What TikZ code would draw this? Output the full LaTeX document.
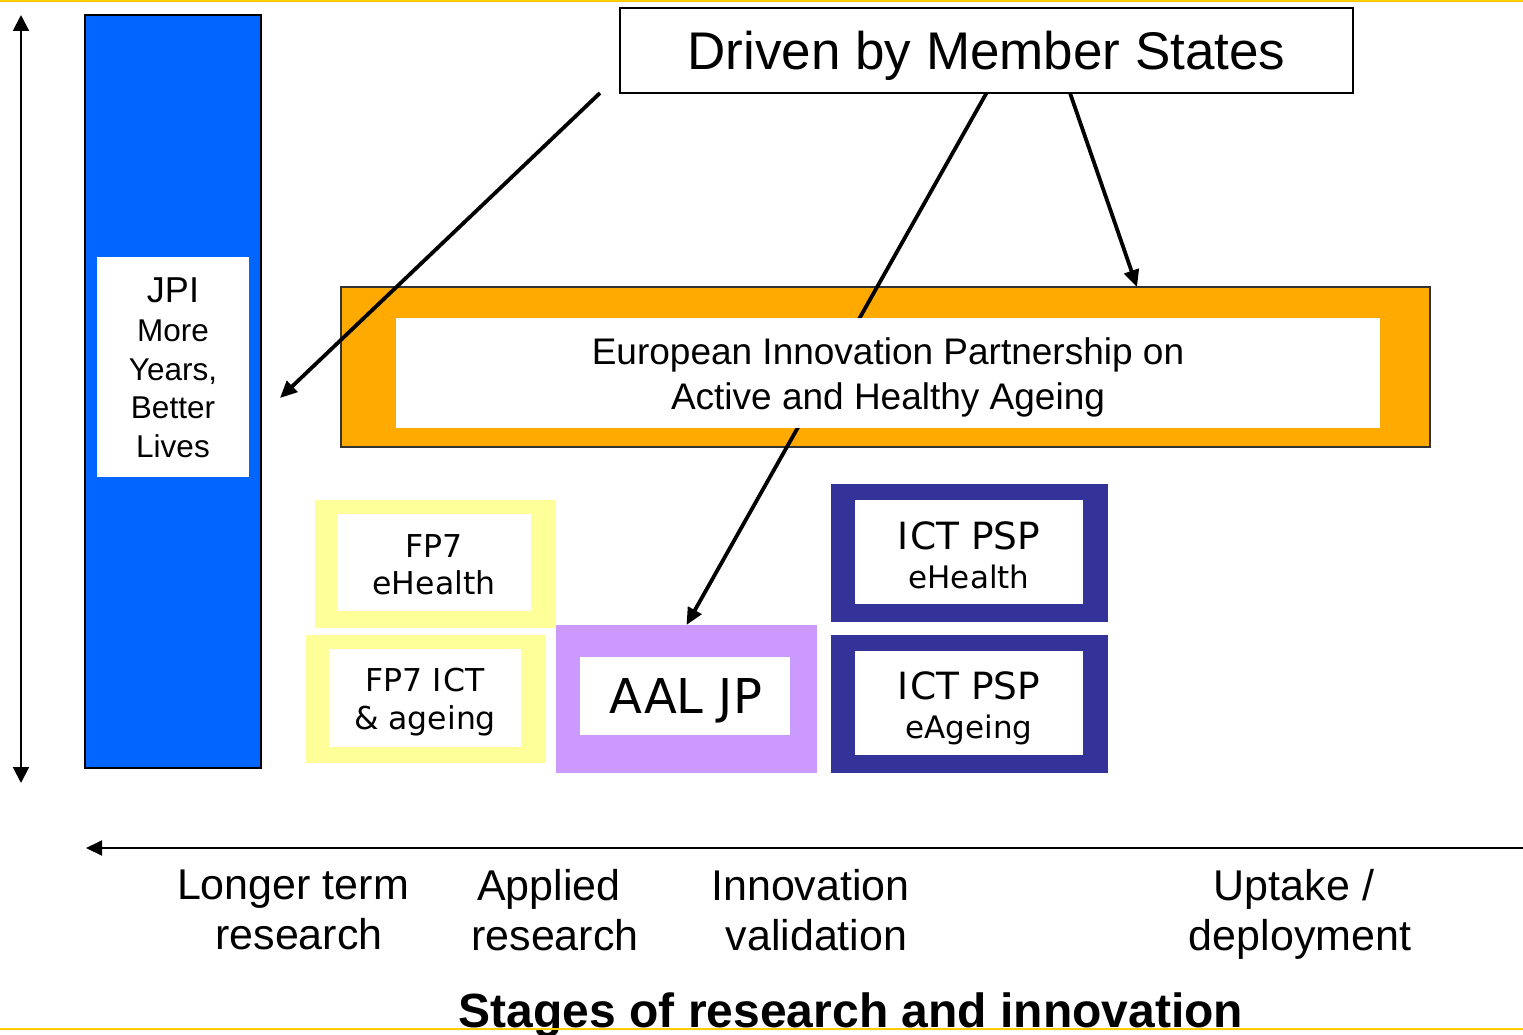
\documentclass[tikz,border=0pt]{standalone}
\usepackage{fontspec}
\setmainfont{Liberation Sans}
\newfontfamily\verd{DejaVu Sans}
\usetikzlibrary{arrows.meta}
\definecolor{yline}{HTML}{FFCC00}
\definecolor{blueC}{HTML}{0066FF}
\definecolor{orangeC}{HTML}{FFAA00}
\definecolor{paleY}{HTML}{FFFF99}
\definecolor{purpleC}{HTML}{CC99FF}
\definecolor{navyC}{HTML}{333399}
\begin{document}
\begin{tikzpicture}[x=1pt,y=-1pt,
  panel/.style={inner sep=0pt, outer sep=0pt, anchor=center, minimum width=#1},
  inbox/.style={fill=white, inner sep=0pt, outer sep=0pt},
  txt/.style={inner sep=0pt, outer sep=0pt, align=center, text=black, anchor=center},
  yell/.style={line width=2pt, draw=yline},
  thinarrow/.style={line width=2pt, -{Triangle[length=16pt,width=15pt]}},
  fatarrow/.style={line width=3.8pt, -{Triangle[length=17pt,width=15pt]}},
  stage/.style={font=\fontsize{43}{50}\selectfont, align=center, inner sep=0pt, anchor=center},
  verdtext/.style={font=\verd\fontsize{31.5}{37.5}\selectfont}
]
\useasboundingbox (0,0) rectangle (1523,1035);

% JPI column
\node[panel=176pt, minimum height=753pt, fill=blueC, draw=black, line width=1.5pt] (blue) at (173,391.5) {};
\node[inbox, minimum width=152pt, minimum height=220pt] (jpi) at (173,367) {};
\node[txt, font=\fontsize{31.5}{38.7}\selectfont] (jpitxt) at (173,368)
  {{\fontsize{36}{38.7}\selectfont JPI}\\More\\Years,\\Better\\Lives};

% Driven by Member States
\node[panel=733pt, minimum height=85pt, draw=black, line width=1.5pt, fill=white, font=\fontsize{53}{60}\selectfont, text depth=0pt] (drv) at (986.5,50.5) {Driven by Member States};

% EIP outer
\node[panel=1089pt, minimum height=160pt, fill=orangeC, draw=black!80, line width=1.2pt] (eipout) at (885.5,367) {};

% connectors from Driven by Member States
\coordinate (s1) at (600,93);
\coordinate (e1) at (280,398);
\coordinate (s3) at (1070,93);
\coordinate (e3) at (1137,287);
\draw[fatarrow] (s1) -- (e1);

% AAL JP outer
\node[panel=261pt, minimum height=148pt, fill=purpleC] (aalout) at (686.5,699) {};
\draw[fatarrow] (drv.south) -- (aalout.north);
\draw[fatarrow] (s3) -- (e3);

% EIP inner
\node[inbox, minimum width=984pt, minimum height=110pt] (eip) at (888,373) {};
\node[txt, font=\fontsize{37}{45}\selectfont] (eiptxt) at (888,377)
  {European Innovation Partnership on\\Active and Healthy Ageing};

% FP7 boxes
\node[panel=241pt, minimum height=128pt, fill=paleY] (fp7hout) at (435.5,564) {};
\node[inbox, minimum width=194pt, minimum height=97pt] (fp7h) at (434,562.5) {};
\node[txt, verdtext] (fp7htxt) at (434,564.5) {FP7\\eHealth};
\node[panel=240pt, minimum height=128pt, fill=paleY] (fp7aout) at (426,699) {};
\node[inbox, minimum width=192pt, minimum height=98pt] (fp7a) at (425,698) {};
\node[txt, verdtext] (fp7atxt) at (425,702) {FP7 I\kern1pt CT\\\&\ ageing};

% AAL JP inner
\node[inbox, minimum width=210pt, minimum height=78pt] (aal) at (685,696) {};
\node[txt, font=\verd\fontsize{48}{50}\selectfont] (aaltxt) at (686,701) {AAL JP};

% ICT PSP boxes
\node[panel=277pt, minimum height=138pt, fill=navyC] (psp1out) at (969.5,553) {};
\node[inbox, minimum width=228pt, minimum height=104pt] (psp1) at (969,552) {};
\node[txt, font=\verd\fontsize{31}{39}\selectfont] (psp1txt) at (969,555)
  {{\fontsize{37.5}{39}\selectfont I\kern1.5pt CT PSP}\\eHealth};
\node[panel=277pt, minimum height=138pt, fill=navyC] (psp2out) at (969.5,704) {};
\node[inbox, minimum width=228pt, minimum height=104pt] (psp2) at (969,703) {};
\node[txt, font=\verd\fontsize{31}{39}\selectfont] (psp2txt) at (969,708)
  {{\fontsize{37.5}{39}\selectfont I\kern1.5pt CT PSP}\\eAgeing};

% axes
\coordinate (vtop) at (21,15);
\coordinate (vbot) at (21,783);
\draw[line width=2pt, {Triangle[length=16pt,width=16pt]}-{Triangle[length=16pt,width=16pt]}] (vtop) -- (vbot);
\coordinate (hright) at (1523,848);
\coordinate (hleft) at (86,848);
\draw[thinarrow] (hright) -- (hleft);

% stage labels
\node[stage] (st1) at (299,910) {Longer term\hspace*{0.28em}\\research};
\node[stage] (st2) at (555,910) {Applied\hspace*{0.28em}\\research};
\node[stage] (st3) at (816.5,910) {Innovation\hspace*{0.28em}\\validation};
\node[stage] (st4) at (1300,914.5) {Uptake /\hspace*{0.28em}\\deployment};

\node[font=\bfseries\fontsize{48}{50}\selectfont, inner sep=0pt, anchor=base] (title) at (851,1027) {Stages of research and innovation};

% frame lines
\coordinate (ytl) at (0,1);
\coordinate (ytr) at (1523,1);
\coordinate (ybl) at (0,1029);
\coordinate (ybr) at (1523,1029);
\draw[yell] (ytl) -- (ytr);
\draw[yell] (ybl) -- (ybr);
\end{tikzpicture}
\end{document}
